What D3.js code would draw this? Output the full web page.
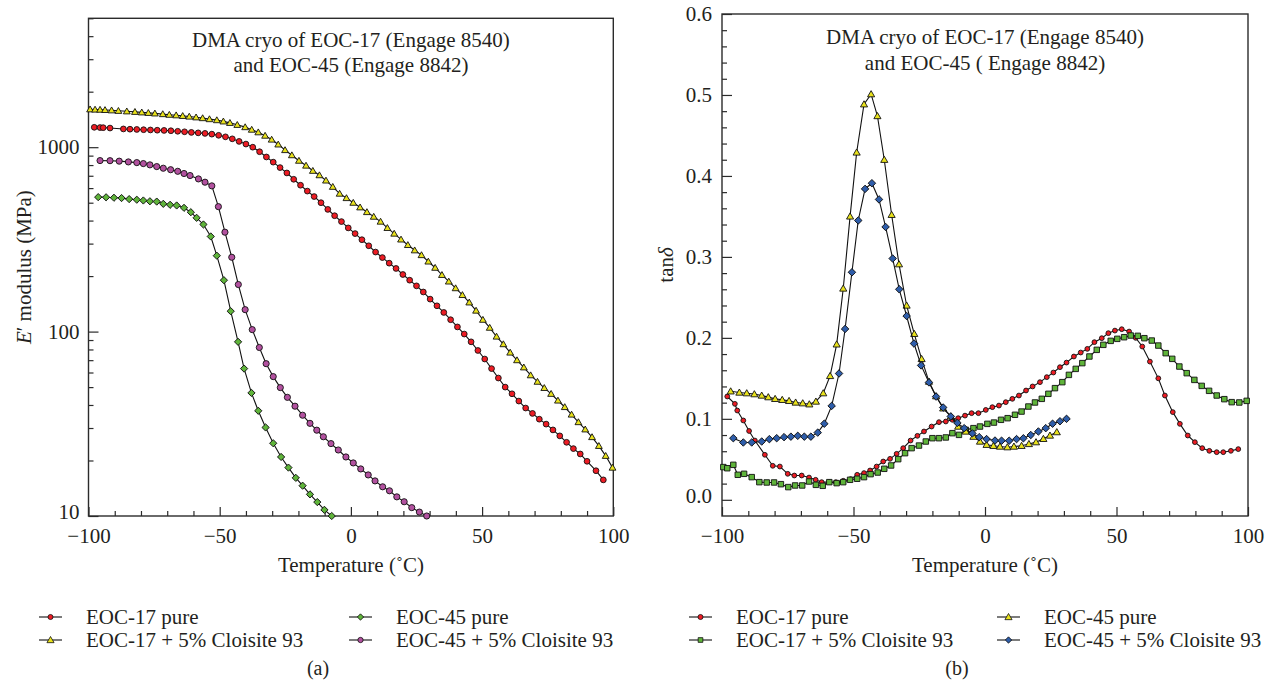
<!DOCTYPE html>
<html>
<head>
<meta charset="utf-8">
<script src="https://cdn.jsdelivr.net/npm/d3@7"></script>
<style>
  body { margin: 0; background: #fff; }
  text { font-family: "Liberation Serif", "Times New Roman", serif; fill: #231f20; }
</style>
</head>
<body>
<svg width="1272" height="686"></svg>
<script>
// ---- panel (a): storage modulus E' (MPa) vs temperature, [T, E] ----
const modEoc17 = [[-97.8,1282],[-95.6,1278],[-94.4,1276],[-91.8,1270],[-86.7,1256],[-84.2,1252],[-81.6,1248],[-79,1244],[-76.4,1240],[-73.8,1236],[-71.2,1233],[-68.6,1228],[-66,1220],[-63.4,1212],[-60.8,1203],[-58.2,1196],[-55.6,1188],[-53,1177],[-50.4,1160],[-47.8,1138],[-45.2,1110],[-42.6,1075],[-40,1040],[-37.4,1000],[-34.8,945],[-32.2,885],[-29.6,830],[-27,775],[-24.4,725],[-21.8,670],[-19.2,622],[-16.6,578],[-14,540],[-11.4,500],[-8.8,460],[-6.2,425],[-3.6,395],[-1,365],[1.6,340],[4.2,315],[6.8,292],[9.4,270],[12,252],[14.6,235],[17.2,220],[19.8,204],[22.4,190],[25,177],[27.6,164],[30.2,150],[32.8,138],[35.4,127],[38,116],[40.6,106],[43.2,97],[45.8,88],[48.4,79],[51,71],[53.6,63],[56.2,56],[58.8,50],[61.4,46],[64,42],[66.6,38.5],[69.2,36],[71.8,33.5],[74.4,31.5],[77,29.3],[79.6,27.2],[82.2,25.1],[84.8,23.2],[87.4,21.7],[90,19.8],[93.4,17.6],[96.2,15.7]];
const modEoc17C93 = [[-99.4,1605],[-97.5,1600],[-95.6,1598],[-93.7,1592],[-91.2,1585],[-88.6,1575],[-85.4,1565],[-82.3,1555],[-79.7,1545],[-77.2,1535],[-74.7,1525],[-71.7,1512],[-69.2,1500],[-66.6,1490],[-64.1,1478],[-61.6,1466],[-59,1452],[-56.5,1438],[-53.9,1420],[-51.1,1402],[-48.6,1380],[-46.1,1355],[-43.3,1322],[-40.3,1285],[-37.8,1245],[-35.3,1205],[-32.7,1155],[-30.2,1100],[-27.7,1035],[-25.1,965],[-22.5,905],[-19.8,845],[-17.1,795],[-14.5,745],[-12,705],[-9.5,660],[-6.9,610],[-4.3,560],[-1.7,530],[0.9,500],[3.5,472],[6.1,445],[8.7,420],[11.3,395],[13.9,365],[16.5,340],[19.1,316],[21.7,295],[24.3,276],[26.9,260],[29.5,240],[32.1,222],[34.7,203],[37.3,187],[39.9,172],[42.5,158],[45.1,144],[47.7,130],[50.3,116],[52.9,105],[55.5,94],[58.1,85.5],[60.7,77],[63.3,70],[65.9,64],[68.5,58],[71.1,53.5],[73.7,49.5],[76.3,46],[78.9,42.3],[81.5,39],[84.1,35.5],[86.7,32.3],[89.3,29.5],[91.9,26.8],[94.5,24],[97.1,21.2],[99.7,18.3]];
const modEoc45 = [[-96.3,536],[-93.3,535],[-90.3,532],[-87.4,530],[-84.5,523],[-81.6,519],[-79.1,514],[-76.6,509],[-74,507],[-71.5,493],[-68.9,487],[-66.4,483],[-63.6,469],[-61,444],[-58.8,414],[-56.2,381],[-53.4,328],[-51.1,258],[-48.4,190],[-45.8,129],[-43,88],[-40.7,63],[-37.9,46.5],[-35.3,37.2],[-32.5,30.2],[-29.6,24.8],[-26.6,20.9],[-23.8,18.3],[-21,16.1],[-18.4,14.6],[-15.6,13.1],[-12.8,11.9],[-10.1,10.8],[-7.3,10.0]];
const modEoc45C93 = [[-95.6,846],[-91.8,845],[-88.3,840],[-84.8,832],[-81.6,825],[-79.1,815],[-76.6,802],[-74,785],[-71.5,769],[-68.7,755],[-66,740],[-63.6,720],[-61.3,702],[-58.1,673],[-55.6,646],[-53,617],[-50.5,476],[-48,346],[-45.4,253],[-42.9,180],[-40.3,131.5],[-37.6,102.5],[-34.9,82],[-32.3,67],[-29.6,57],[-26.9,49.7],[-24.2,44],[-21.3,39.4],[-18.4,35.2],[-15.6,31.8],[-13,29.2],[-10.5,26.9],[-7.6,24.7],[-4.8,22.8],[-1.9,20.9],[0.9,19.4],[3.75,18],[6.6,16.7],[9.2,15.5],[12.1,14.4],[14.7,13.7],[17.5,12.7],[20.3,11.95],[23.2,11.1],[26.1,10.5],[28.9,10.0]];

// ---- panel (b): tan delta vs temperature, [T, tan d] ----
const tanEoc17 = [[-98,0.1276],[-95.1,0.1185],[-94.2,0.1103],[-91.9,0.098],[-89.7,0.085],[-87.5,0.0732],[-83.7,0.0556],[-80.7,0.042],[-78,0.0411],[-75,0.0321],[-72.5,0.030],[-69.7,0.030],[-66.9,0.0275],[-64.4,0.0247],[-62.1,0.0218],[-59.3,0.0218],[-56.7,0.0218],[-53.9,0.0235],[-51.1,0.0255],[-48.6,0.0309],[-46,0.033],[-43.7,0.0362],[-41.2,0.0411],[-38.7,0.0473],[-36.1,0.0506],[-33.6,0.0568],[-31.1,0.0638],[-28.3,0.0732],[-25.7,0.079],[-23.2,0.0844],[-20.3,0.0905],[-17.5,0.0959],[-14.9,0.0967],[-12.4,0.0988],[-10.2,0.1008],[-7.6,0.104],[-5.1,0.107],[-2.5,0.107],[0.3,0.111],[2.8,0.1144],[5.3,0.1164],[7.9,0.1206],[10.4,0.1247],[12.9,0.1288],[15.6,0.135],[18.1,0.14],[20.9,0.1453],[23.5,0.1515],[26,0.1572],[28.5,0.1638],[31,0.1695],[33.8,0.177],[36.4,0.1819],[38.9,0.1864],[41.6,0.1947],[44.4,0.1996],[46.9,0.2058],[49.4,0.209],[52,0.2107],[54.8,0.2078],[57.3,0.200],[59.8,0.1893],[62.7,0.1707],[65.9,0.150],[68.4,0.1288],[71.4,0.1083],[74.1,0.0938],[77.1,0.0794],[79.8,0.0712],[82.6,0.0638],[85.3,0.0605],[88.1,0.0588],[90.6,0.0588],[93.5,0.0605],[96.3,0.0626]];
const tanEoc17C93 = [[-99.5,0.0404],[-98,0.039],[-95.7,0.0432],[-94,0.0309],[-91.6,0.0321],[-88.7,0.028],[-85.8,0.0218],[-83,0.0214],[-80.2,0.0214],[-77.6,0.0193],[-74.8,0.0157],[-72.2,0.0177],[-69.5,0.0177],[-66.9,0.0226],[-64.3,0.0185],[-61.7,0.0173],[-59.2,0.0218],[-56.4,0.0206],[-53.9,0.0218],[-51.3,0.0247],[-48.6,0.026],[-46,0.028],[-43.5,0.0317],[-40.8,0.0337],[-38.3,0.0383],[-35.7,0.0424],[-33,0.0502],[-30.4,0.0576],[-27.9,0.0638],[-25.1,0.067],[-22.5,0.072],[-20,0.0761],[-17.5,0.0761],[-14.9,0.077],[-12.4,0.0823],[-9.9,0.0802],[-7.3,0.0864],[-4.4,0.0885],[-1.9,0.0905],[0.9,0.0938],[3.4,0.0954],[6.1,0.0988],[8.6,0.1008],[11.4,0.105],[13.9,0.109],[16.5,0.1152],[19,0.1202],[21.6,0.1247],[24.1,0.1309],[26.6,0.1379],[29.4,0.1453],[31.9,0.1543],[34.5,0.1617],[37,0.1688],[39.7,0.177],[42.5,0.1852],[45,0.1914],[47.8,0.1963],[50.3,0.1988],[52.9,0.2008],[55.4,0.2029],[58.1,0.2025],[60.6,0.1996],[63.4,0.1967],[65.9,0.1905],[68.7,0.1811],[71.2,0.1741],[73.9,0.1646],[76.7,0.1564],[79.6,0.1481],[82.4,0.1407],[85.2,0.1346],[88.1,0.1288],[91,0.1243],[93.8,0.1206],[96.7,0.1202],[99.5,0.1222]];
const tanEoc45 = [[-96.7,0.134],[-93.4,0.1325],[-90.6,0.1317],[-87.7,0.1305],[-84.9,0.1288],[-82.4,0.1268],[-79.8,0.1247],[-77.1,0.1235],[-74.5,0.1222],[-72,0.1202],[-69.3,0.1193],[-66.8,0.118],[-64.3,0.1214],[-61.5,0.1317],[-58.9,0.153],[-56.4,0.192],[-53.9,0.261],[-51.3,0.350],[-48.8,0.429],[-46,0.4885],[-43.3,0.501],[-40.9,0.474],[-38.3,0.420],[-35.5,0.352],[-32.7,0.291],[-29.8,0.240],[-26.9,0.205],[-24.1,0.174],[-21.3,0.146],[-18.6,0.128],[-15.9,0.113],[-13,0.103],[-10.2,0.0905],[-7.3,0.0844],[-4.4,0.078],[-1.9,0.072],[0.6,0.068],[3.2,0.0667],[5.7,0.0658],[8.5,0.065],[11,0.0658],[13.9,0.0667],[16.7,0.069],[19.4,0.0712],[22.2,0.0753],[24.7,0.0794],[27.3,0.0836]];
const tanEoc45C93 = [[-95.7,0.0761],[-91.9,0.0708],[-88.7,0.0708],[-84.9,0.072],[-82,0.0749],[-79.2,0.0761],[-76.4,0.0774],[-73.8,0.078],[-71.2,0.079],[-68.7,0.078],[-66.2,0.078],[-63.6,0.083],[-61.1,0.094],[-58.3,0.116],[-55.5,0.156],[-53.2,0.211],[-50.6,0.281],[-48.2,0.345],[-45.6,0.384],[-43,0.391],[-40.3,0.371],[-37.8,0.337],[-35.1,0.298],[-32.6,0.26],[-29.8,0.227],[-27,0.193],[-24.3,0.166],[-21.3,0.145],[-18.6,0.1275],[-15.9,0.114],[-13,0.103],[-10.5,0.095],[-7.9,0.0885],[-4.8,0.082],[-2.2,0.0774],[0.6,0.075],[3.8,0.0732],[6.3,0.073],[9.2,0.073],[12,0.075],[14.6,0.076],[17.4,0.080],[20.3,0.0844],[23.1,0.0885],[25.7,0.094],[28.5,0.097],[31,0.100]];

const seriesNames = ['EOC-17 pure', 'EOC-17 + 5% Cloisite 93', 'EOC-45 pure', 'EOC-45 + 5% Cloisite 93'];
const xTicks = [-100, -50, 0, 50, 100];
const modTicks = [10, 100, 1000];
const tanTicks = [0, 0.1, 0.2, 0.3, 0.4, 0.5, 0.6];

const svg = d3.select('svg');
const ink = '#2b2b2b';
const fs = 21;

function marker(kind, color, size) {
  const types = { circle: d3.symbolCircle, triangle: d3.symbolTriangle, square: d3.symbolSquare, diamond: d3.symbolSquare };
  return {
    path: d3.symbol().type(types[kind]).size(size)(),
    rot: kind === 'diamond' ? 45 : 0,
    dy: kind === 'triangle' ? 0.6 : 0,
    color: color
  };
}

function drawPanel(p) {
  const g = svg.append('g');
  const x = d3.scaleLinear().domain([-100, 100]).range([p.left, p.right]);
  const y = p.y;

  // axes, ticks pointing inward
  const minorX = d3.range(-90, 100, 10).filter(v => v % 50 !== 0);
  g.append('g').attr('transform', `translate(0,${p.bottom})`)
    .call(d3.axisBottom(x).tickValues(minorX).tickSize(-5).tickFormat(''));
  g.append('g').attr('transform', `translate(0,${p.bottom})`)
    .call(d3.axisBottom(x).tickValues(xTicks).tickSizeInner(-9).tickSizeOuter(0).tickPadding(12));
  g.append('g').attr('transform', `translate(${p.left},0)`)
    .call(d3.axisLeft(y).tickValues(p.minorY).tickSize(-5).tickFormat(''));
  const yAx = g.append('g').attr('transform', `translate(${p.left},0)`)
    .call(d3.axisLeft(y).tickValues(p.yTicks).tickFormat(p.yFormat).tickSizeInner(-10).tickSizeOuter(0).tickPadding(p.yPad));
  // lowest y label sits just above the x labels
  yAx.selectAll('.tick text').filter(d => d === p.yTicks[0]).attr('dy', '0.12em');
  g.selectAll('.domain').remove();
  g.selectAll('.tick line').attr('stroke', ink).attr('stroke-width', 1.2);
  g.selectAll('.tick text')
    .style('font-family', '"Liberation Serif", serif')
    .style('font-size', fs + 'px')
    .attr('fill', '#231f20');

  g.append('rect')
    .attr('x', p.left).attr('y', p.top)
    .attr('width', p.right - p.left).attr('height', p.bottom - p.top)
    .attr('fill', 'none').attr('stroke', ink).attr('stroke-width', 1.4);

  // series
  const line = d3.line().x(d => x(d[0])).y(d => y(d[1]));
  p.series.forEach(s => {
    g.append('path').datum(s.data)
      .attr('d', line).attr('fill', 'none')
      .attr('stroke', '#111').attr('stroke-width', 1.1);
    g.append('g').selectAll('path').data(s.data).enter().append('path')
      .attr('d', s.m.path)
      .attr('transform', d => `translate(${x(d[0])},${y(d[1]) + s.m.dy}) rotate(${s.m.rot})`)
      .attr('fill', s.m.color).attr('stroke', '#111').attr('stroke-width', 0.9);
  });

  // title
  const cx = (p.left + p.right) / 2;
  p.title.forEach((t, i) => {
    g.append('text').attr('x', cx).attr('y', p.titleY[i])
      .attr('text-anchor', 'middle').attr('font-size', fs).text(t);
  });

  // axis labels
  g.append('text').attr('x', cx).attr('y', 572)
    .attr('text-anchor', 'middle').attr('font-size', fs).text('Temperature (˚C)');
  const yl = g.append('text')
    .attr('transform', `translate(${p.yLabelX},${(p.top + p.bottom) / 2}) rotate(-90)`)
    .attr('text-anchor', 'middle').attr('font-size', fs);
  p.yLabel(yl);

  // legend
  p.series.forEach((s, i) => {
    const col = i < 2 ? 0 : 1;
    const row = i % 2;
    const lx = p.legendX[col];
    const ly = 617 + row * 23;
    const lg = g.append('g');
    lg.append('line').attr('x1', lx).attr('x2', lx + 23).attr('y1', ly).attr('y2', ly)
      .attr('stroke', '#111').attr('stroke-width', 1.1);
    lg.append('path').attr('d', s.mSmall.path)
      .attr('transform', `translate(${lx + 11.5},${ly + s.mSmall.dy}) rotate(${s.mSmall.rot})`)
      .attr('fill', s.m.color).attr('stroke', '#111').attr('stroke-width', 0.8);
    lg.append('text').attr('x', lx + 47).attr('y', ly + 7)
      .attr('font-size', fs).text(seriesNames[s.idx]);
  });

  g.append('text').attr('x', p.tagX).attr('y', 675)
    .attr('text-anchor', 'middle').attr('font-size', 20).text(p.tag);
}

const red = '#ed1c24', yellow = '#e9e21c', green = '#5fb43a', magenta = '#b2519f', blue = '#2e5daa';

// panel (a)
const modMinor = [];
[10, 100, 1000].forEach(dec => d3.range(2, 10).forEach(k => { if (dec * k <= 5000) modMinor.push(dec * k); }));
drawPanel({
  left: 88.5, right: 613.3, top: 18.3, bottom: 516,
  y: d3.scaleLog().domain([10, 5000]).range([516, 18.3]),
  yTicks: modTicks, minorY: modMinor, yFormat: d3.format('d'), yPad: 9,
  title: ['DMA cryo of EOC-17 (Engage 8540)', 'and EOC-45 (Engage 8842)'],
  titleY: [47, 72],
  yLabelX: 31,
  yLabel: t => {
    t.append('tspan').attr('font-style', 'italic').text('E');
    t.append('tspan').text('′ modulus (MPa)');
  },
  legendX: [39, 349],
  tagX: 318,
  tag: '(a)',
  series: [
    { idx: 0, data: modEoc17, m: marker('circle', red, 26), mSmall: marker('circle', red, 20) },
    { idx: 1, data: modEoc17C93, m: marker('triangle', yellow, 20), mSmall: marker('triangle', yellow, 22) },
    { idx: 2, data: modEoc45, m: marker('diamond', green, 26), mSmall: marker('diamond', green, 20) },
    { idx: 3, data: modEoc45C93, m: marker('circle', magenta, 30), mSmall: marker('circle', magenta, 22) }
  ]
});

// panel (b)
drawPanel({
  left: 722, right: 1248, top: 14, bottom: 516,
  y: d3.scaleLinear().domain([-0.02, 0.6]).range([516, 14]),
  yTicks: tanTicks, minorY: d3.range(1, 30).filter(i => i % 5 !== 0).map(i => i * 0.02), yFormat: d3.format('.1f'), yPad: 10,
  title: ['DMA cryo of EOC-17 (Engage 8540)', 'and EOC-45 ( Engage 8842)'],
  titleY: [43.5, 70],
  yLabelX: 673,
  yLabel: t => {
    t.append('tspan').text('tan');
    t.append('tspan').attr('font-style', 'italic').text('δ');
  },
  legendX: [689, 997],
  tagX: 957,
  tag: '(b)',
  series: [
    { idx: 0, data: tanEoc17, m: marker('circle', red, 18), mSmall: marker('circle', red, 20) },
    { idx: 1, data: tanEoc17C93, m: marker('square', green, 30), mSmall: marker('square', green, 22) },
    { idx: 2, data: tanEoc45, m: marker('triangle', yellow, 22), mSmall: marker('triangle', yellow, 22) },
    { idx: 3, data: tanEoc45C93, m: marker('diamond', blue, 28), mSmall: marker('diamond', blue, 20) }
  ]
});
</script>
</body>
</html>
